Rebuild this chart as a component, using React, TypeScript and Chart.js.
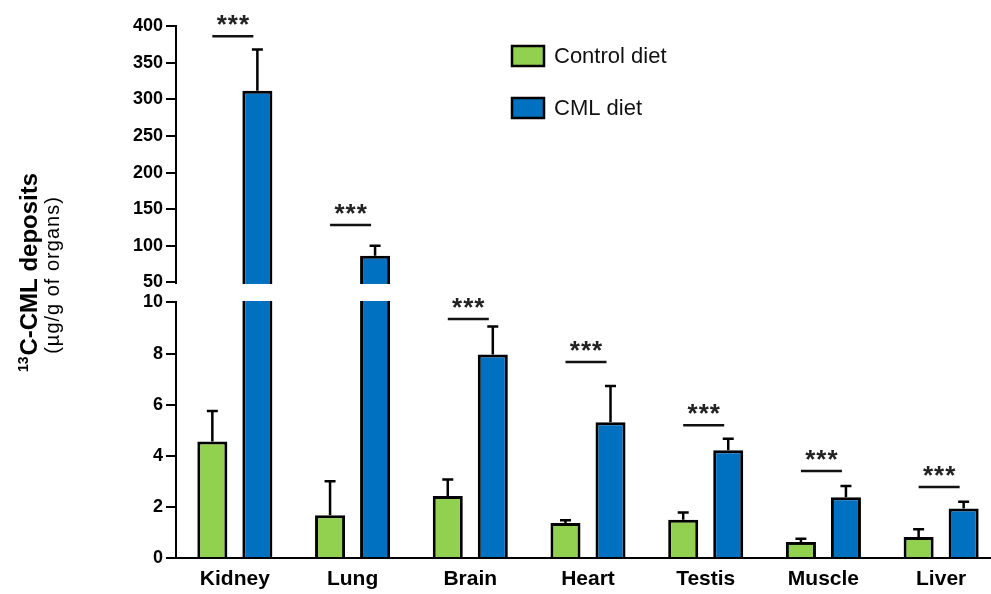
import React, { useEffect, useRef } from 'react';
import { Chart, registerables, LinearScale } from 'chart.js';

// ---------- data ----------
const categories = ['Kidney', 'Lung', 'Brain', 'Heart', 'Testis', 'Muscle', 'Liver'];
const seriesLabels = ['Control diet', 'CML diet'];
const controlValues = [4.56, 1.67, 2.43, 1.37, 1.5, 0.63, 0.82];
const controlErrors = [1.19, 1.33, 0.64, 0.11, 0.28, 0.12, 0.31];
const cmlValues = [311.6, 86.5, 7.96, 5.31, 4.22, 2.38, 1.94];
const cmlErrors = [56.4, 13.5, 1.1, 1.42, 0.45, 0.44, 0.26];
const sigLevels = [386, 128.5, 9.35, 7.67, 5.2, 3.4, 2.78];
const sigLabels = ['***', '***', '***', '***', '***', '***', '***'];
const yTicks = [0, 2, 4, 6, 8, 10, 50, 100, 150, 200, 250, 300, 350, 400];
const BREAK_LOW = 10;
const BREAK_HIGH = 50;
const Y_MAX = 400;

// ---------- styling ----------
const GREEN = '#92D050';
const BLUE = '#0070C0';
const FONT = "'Liberation Sans', Arial, Helvetica, sans-serif";
const LOW_FRAC = 0.4803;
const GAP_FRAC = 0.0376;

class BrokenLinearScale extends LinearScale {
  static id = 'brokenLinear';
  static defaults = LinearScale.defaults;
  _toDecimal(v: number) {
    const max = this.max;
    if (v <= BREAK_LOW) return (v / BREAK_LOW) * LOW_FRAC;
    if (v <= BREAK_HIGH) return LOW_FRAC + ((v - BREAK_LOW) / (BREAK_HIGH - BREAK_LOW)) * GAP_FRAC;
    return LOW_FRAC + GAP_FRAC + ((v - BREAK_HIGH) / (max - BREAK_HIGH)) * (1 - LOW_FRAC - GAP_FRAC);
  }
  getPixelForValue(v: any) {
    if (v === null || v === undefined || isNaN(v)) return NaN;
    return this.getPixelForDecimal(this._toDecimal(+v));
  }
  getValueForPixel(p: number) {
    const d = this.getDecimalForPixel(p);
    const max = this.max;
    if (d <= LOW_FRAC) return (d / LOW_FRAC) * BREAK_LOW;
    if (d <= LOW_FRAC + GAP_FRAC) return BREAK_LOW + ((d - LOW_FRAC) / GAP_FRAC) * (BREAK_HIGH - BREAK_LOW);
    return BREAK_HIGH + ((d - LOW_FRAC - GAP_FRAC) / (1 - LOW_FRAC - GAP_FRAC)) * (max - BREAK_HIGH);
  }
}

Chart.register(...registerables, BrokenLinearScale as any);

const decorPlugin = {
  id: 'decor',
  afterDatasetsDraw(chart: any) {
    const { ctx, chartArea } = chart;
    const y = chart.scales.y;
    const x = chart.scales.x;
    ctx.save();
    // axis break band
    const yb1 = y.getPixelForValue(BREAK_HIGH) + 1.5;
    const yb2 = y.getPixelForValue(BREAK_LOW) - 1.5;
    const bandRight = x.getPixelForValue(1) + x.width / categories.length / 2;
    ctx.fillStyle = '#ffffff';
    ctx.fillRect(chartArea.left - 3, yb1, bandRight - chartArea.left + 3, yb2 - yb1);

    // error bars
    ctx.strokeStyle = '#000';
    ctx.lineWidth = 2.5;
    chart.data.datasets.forEach((ds: any, i: number) => {
      const meta = chart.getDatasetMeta(i);
      meta.data.forEach((bar: any, j: number) => {
        const v = ds.data[j];
        const e = ds.errors[j];
        const yt = y.getPixelForValue(v);
        const ye = y.getPixelForValue(v + e);
        ctx.beginPath();
        ctx.moveTo(bar.x, yt);
        ctx.lineTo(bar.x, ye);
        ctx.moveTo(bar.x - 5.5, ye);
        ctx.lineTo(bar.x + 5.5, ye);
        ctx.stroke();
      });
    });

    // significance markers
    const m0 = chart.getDatasetMeta(0);
    const m1 = chart.getDatasetMeta(1);
    ctx.lineWidth = 2.5;
    ctx.strokeStyle = '#111';
    ctx.fillStyle = '#222';
    ctx.font = `bold 26px ${FONT}`;
    (ctx as any).letterSpacing = '1px';
    ctx.textAlign = 'center';
    ctx.textBaseline = 'alphabetic';
    sigLevels.forEach((lvl, j) => {
      const x0 = m0.data[j].x;
      const x1 = m1.data[j].x - 4;
      const yy = y.getPixelForValue(lvl);
      ctx.beginPath();
      ctx.moveTo(x0, yy);
      ctx.lineTo(x1, yy);
      ctx.stroke();
      ctx.fillText(sigLabels[j], (x0 + x1) / 2 + 0.5, yy - 3);
    });
    (ctx as any).letterSpacing = '0px';

    // legend
    const lx = 512;
    const ly = [46, 98];
    chart.data.datasets.forEach((ds: any, i: number) => {
      ctx.fillStyle = ds.backgroundColor;
      ctx.fillRect(lx, ly[i], 32, 20);
      ctx.lineWidth = 2.5;
      ctx.strokeStyle = '#000';
      ctx.strokeRect(lx, ly[i], 32, 20);
      ctx.fillStyle = '#111';
      ctx.font = `22px ${FONT}`;
      ctx.textAlign = 'left';
      ctx.textBaseline = 'middle';
      ctx.fillText(ds.label, lx + 42, ly[i] + 11);
    });

    // y-axis title
    ctx.fillStyle = '#000';
    ctx.textBaseline = 'alphabetic';
    ctx.textAlign = 'left';
    ctx.save();
    ctx.translate(36.5, 273);
    ctx.rotate(-Math.PI / 2);
    ctx.font = `bold 14px ${FONT}`;
    const supW = ctx.measureText('13').width;
    ctx.font = `bold 24px ${FONT}`;
    const mainW = ctx.measureText('C-CML deposits').width;
    const start = -(supW + mainW) / 2;
    ctx.font = `bold 14px ${FONT}`;
    ctx.fillText('13', start, -9);
    ctx.font = `bold 24px ${FONT}`;
    ctx.fillText('C-CML deposits', start + supW + 1, 0);
    ctx.restore();

    ctx.save();
    ctx.translate(58.5, 275);
    ctx.rotate(-Math.PI / 2);
    ctx.font = `20px ${FONT}`;
    (ctx as any).letterSpacing = '1px';
    ctx.textAlign = 'center';
    ctx.fillText('(µg/g of organs)', 0, 0);
    ctx.restore();

    ctx.restore();
  },
};

export default function App() {
  const ref = useRef<HTMLCanvasElement>(null);
  useEffect(() => {
    if (!ref.current) return;
    const chart = new Chart(ref.current, {
      type: 'bar',
      data: {
        labels: categories,
        datasets: [
          {
            label: seriesLabels[0],
            data: controlValues,
            errors: controlErrors,
            backgroundColor: GREEN,
            borderColor: '#000',
            borderWidth: 3,
          } as any,
          {
            label: seriesLabels[1],
            data: cmlValues,
            errors: cmlErrors,
            backgroundColor: BLUE,
            borderColor: '#000',
            borderWidth: 3,
          } as any,
        ],
      },
      options: {
        animation: false,
        responsive: true,
        maintainAspectRatio: false,
        layout: { padding: { left: 0, right: 2, top: 26, bottom: 0 } },
        datasets: { bar: { categoryPercentage: 0.765, barPercentage: 0.667 } },
        plugins: { legend: { display: false }, tooltip: { enabled: false }, title: { display: false } },
        scales: {
          x: {
            type: 'category',
            offset: true,
            grid: { display: false, drawTicks: false },
            border: { display: true, color: '#000', width: 2 },
            ticks: { color: '#000', font: { family: FONT, size: 21, weight: 'bold' }, padding: 9, maxRotation: 0 },
            afterFit: (s: any) => { s.height = 36; },
          },
          y: {
            type: 'brokenLinear' as any,
            min: 0,
            max: Y_MAX,
            border: { display: true, color: '#000', width: 2 },
            grid: { drawOnChartArea: false, drawTicks: true, tickLength: 10, color: '#000', lineWidth: 2 },
            ticks: {
              color: '#000',
              autoSkip: false,
              padding: 3,
              font: { family: FONT, size: 18, weight: 'bold' },
              callback: (v: any) => String(v),
            },
            afterBuildTicks: (s: any) => { s.ticks = yTicks.map((value) => ({ value })); },
            afterFit: (s: any) => { s.width = 176; },
          },
        },
      },
      plugins: [decorPlugin],
    });
    return () => chart.destroy();
  }, []);
  return (
    <div style={{ position: 'fixed', left: 0, top: 0, width: 991, height: 594, overflow: 'hidden', background: '#fff' }}>
      <div style={{ position: 'relative', width: 1002, height: 594 }}>
        <canvas ref={ref} />
      </div>
    </div>
  );
}
